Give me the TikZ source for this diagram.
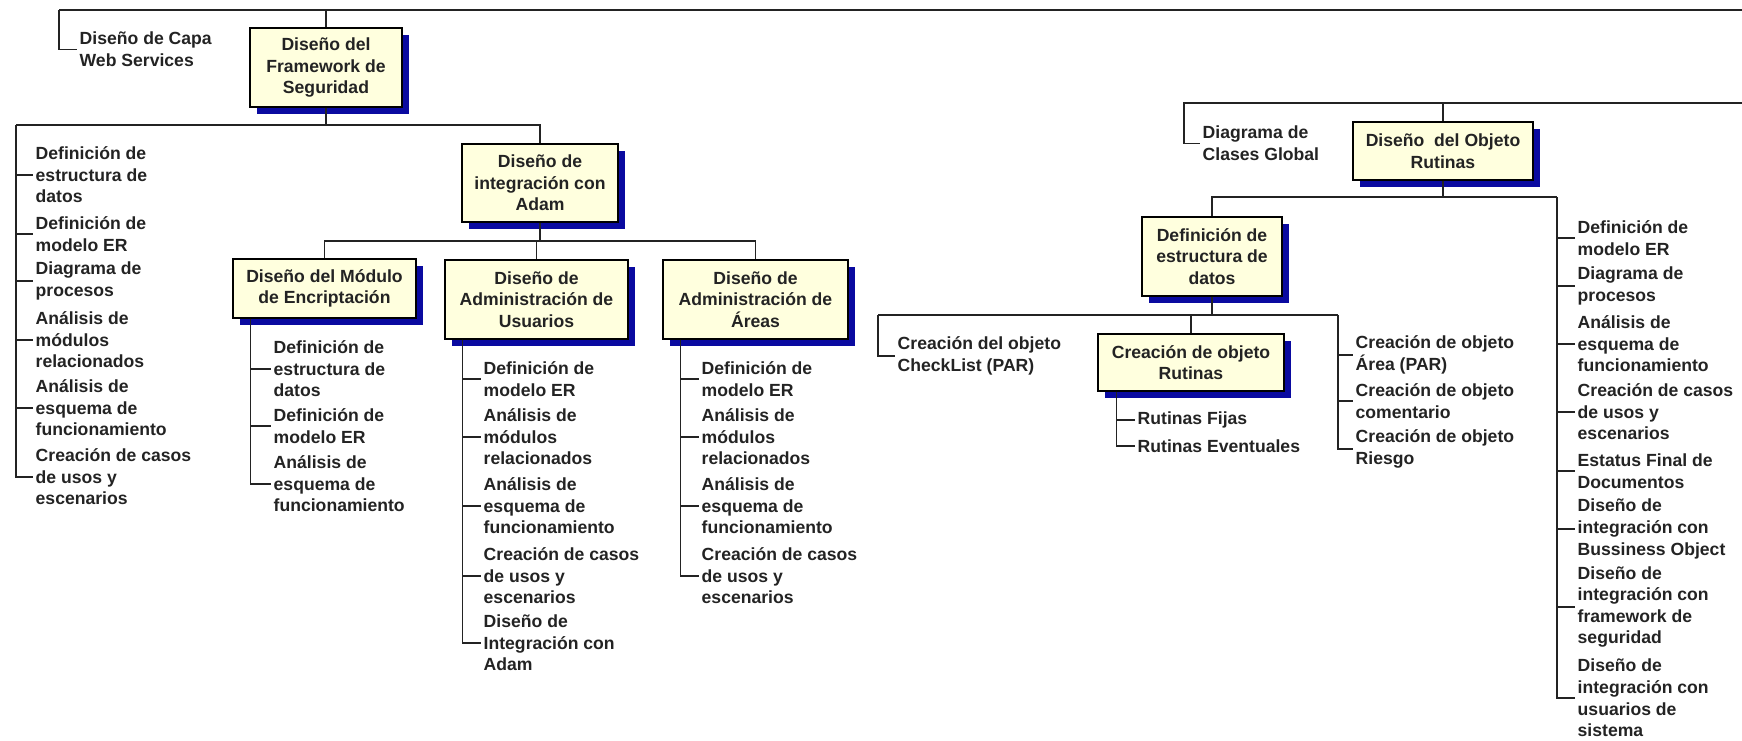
\documentclass[tikz,border=0pt]{standalone}
\usepackage{fontspec}
\setmainfont{Liberation Sans}
\usetikzlibrary{shadows}

\definecolor{cajafondo}{RGB}{255,255,222}
\definecolor{sombra}{RGB}{10,10,160}
\definecolor{linea}{RGB}{35,35,35}

\begin{document}
\begin{tikzpicture}[x=0.5pt, y=-0.5pt,
    font=\fontsize{8.8}{10.8}\selectfont\bfseries,
    line width=0.7pt, draw=linea, text=linea,
    caja/.style={draw=black, fill=cajafondo, align=center, inner sep=0pt,
        general shadow={fill=sombra, shadow xshift=3.5pt, shadow yshift=-3.5pt}},
    hoja/.style={align=left, anchor=west, inner xsep=1pt, inner ysep=0pt},
]
\useasboundingbox (0,0) rectangle (1742,740);

\node[caja, minimum width=76pt, minimum height=39.5pt] (fw) at (326,67.5) {Diseño del\\Framework de\\Seguridad};
\node[caja, minimum width=78pt, minimum height=39pt] (adam) at (540,183) {Diseño de\\integración con\\Adam};
\node[caja, minimum width=91.5pt, minimum height=29.5pt] (mod) at (324.5,288.5) {Diseño del Módulo\\de Encriptación};
\node[caja, minimum width=91.5pt, minimum height=39.5pt] (usu) at (536.5,299.5) {Diseño de\\Administración de\\Usuarios};
\node[caja, minimum width=92.5pt, minimum height=39.5pt] (are) at (755.5,299.5) {Diseño de\\Administración de\\Áreas};
\node[caja, minimum width=90pt, minimum height=29pt] (obj) at (1443,151) {Diseño\ \ del Objeto\\Rutinas};
\node[caja, minimum width=70pt, minimum height=39.5pt] (def) at (1212,256.5) {Definición de\\estructura de\\datos};
\node[caja, minimum width=93pt, minimum height=28.5pt] (cro) at (1191,362.5) {Creación de objeto\\Rutinas};

\node[hoja] (capa) at (77,49.5) {Diseño de Capa\\Web Services};

\node[hoja] (f1) at (33,175) {Definición de\\estructura de\\datos};
\node[hoja] (f2) at (33,234) {Definición de\\modelo ER};
\node[hoja] (f3) at (33,281) {Diagrama de\\procesos};
\node[hoja] (f4) at (33,340) {Análisis de\\módulos\\relacionados};
\node[hoja] (f5) at (33,408) {Análisis de\\esquema de\\funcionamiento};
\node[hoja] (f6) at (33,477) {Creación de casos\\de usos y\\escenarios};

\node[hoja] (m1) at (271,369) {Definición de\\estructura de\\datos};
\node[hoja] (m2) at (271,426) {Definición de\\modelo ER};
\node[hoja] (m3) at (271,484) {Análisis de\\esquema de\\funcionamiento};

\node[hoja] (u1) at (481,379) {Definición de\\modelo ER};
\node[hoja] (u2) at (481,437) {Análisis de\\módulos\\relacionados};
\node[hoja] (u3) at (481,506) {Análisis de\\esquema de\\funcionamiento};
\node[hoja] (u4) at (481,576) {Creación de casos\\de usos y\\escenarios};
\node[hoja] (u5) at (481,643) {Diseño de\\Integración con\\Adam};

\node[hoja] (a1) at (699,379) {Definición de\\modelo ER};
\node[hoja] (a2) at (699,437) {Análisis de\\módulos\\relacionados};
\node[hoja] (a3) at (699,506) {Análisis de\\esquema de\\funcionamiento};
\node[hoja] (a4) at (699,576) {Creación de casos\\de usos y\\escenarios};

\node[hoja] (clases) at (1200,143.5) {Diagrama de\\Clases Global};
\node[hoja] (check) at (895,356) {Creación del objeto\\CheckList (PAR)};

\node[hoja] (c1) at (1353,355) {Creación de objeto\\Área (PAR)};
\node[hoja] (c2) at (1353,401) {Creación de objeto\\comentario};
\node[hoja] (c3) at (1353,449) {Creación de objeto\\Riesgo};

\node[hoja] (t1) at (1135,420) {Rutinas Fijas};
\node[hoja] (t2) at (1135,446) {Rutinas Eventuales};

\node[hoja] (r1) at (1575,238) {Definición de\\modelo ER};
\node[hoja] (r2) at (1575,286) {Diagrama de\\procesos};
\node[hoja] (r3) at (1575,344) {Análisis de\\esquema de\\funcionamiento};
\node[hoja] (r4) at (1575,412) {Creación de casos\\de usos y\\escenarios};
\node[hoja] (r5) at (1575,471) {Estatus Final de\\Documentos};
\node[hoja] (r6) at (1575,529) {Diseño de\\integración con\\Bussiness Object};
\node[hoja] (r7) at (1575,607) {Diseño de\\integración con\\framework de\\seguridad};
\node[hoja] (r8) at (1575,698) {Diseño de\\integración con\\usuarios de\\sistema};

% left branch
\coordinate (tl) at (59,10);
\coordinate (tr) at (1742,10);
\draw (tl) -- (tr);
\draw (tl) |- (capa.west);
\draw (fw.north) -- (fw.north |- tl);

\coordinate (b1) at (16,125);
\draw (fw.south) -- (fw.south |- b1);
\draw (b1) -| (adam.north);
\foreach \i in {1,...,6} \draw (b1) |- (f\i.west);

\coordinate (b2) at (540,241);
\draw (adam.south) -- (b2);
\draw (mod.north) |- (b2) -| (are.north);
\draw (usu.north) -- (usu.north |- b2);

\coordinate (mod-t) at ([xshift=9pt]mod.south west);
\coordinate (usu-t) at ([xshift=9pt]usu.south west);
\coordinate (are-t) at ([xshift=9pt]are.south west);
\foreach \i in {1,2,3} \draw (mod-t) |- (m\i.west);
\foreach \i in {1,...,5} \draw (usu-t) |- (u\i.west);
\foreach \i in {1,...,4} \draw (are-t) |- (a\i.west);

% right branch
\coordinate (b3) at (1184,103);
\coordinate (b3r) at (1742,103);
\draw (b3r) -- (b3) |- (clases.west);
\draw (obj.north) -- (obj.north |- b3);

\coordinate (b4) at (1557,197);
\draw (obj.south) -- (obj.south |- b4);
\draw (def.north) |- (b4);
\foreach \i in {1,...,8} \draw (b4) |- (r\i.west);

\coordinate (b5l) at (878,315);
\coordinate (b5r) at (1338,315);
\draw (def.south) -- (def.south |- b5l);
\draw (b5l) -- (b5r);
\draw (b5l) |- (check.west);
\draw (cro.north) -- (cro.north |- b5l);
\foreach \i in {1,2,3} \draw (b5r) |- (c\i.west);

\coordinate (cro-t) at ([xshift=9.5pt]cro.south west);
\foreach \i in {1,2} \draw (cro-t) |- (t\i.west);

\end{tikzpicture}
\end{document}
